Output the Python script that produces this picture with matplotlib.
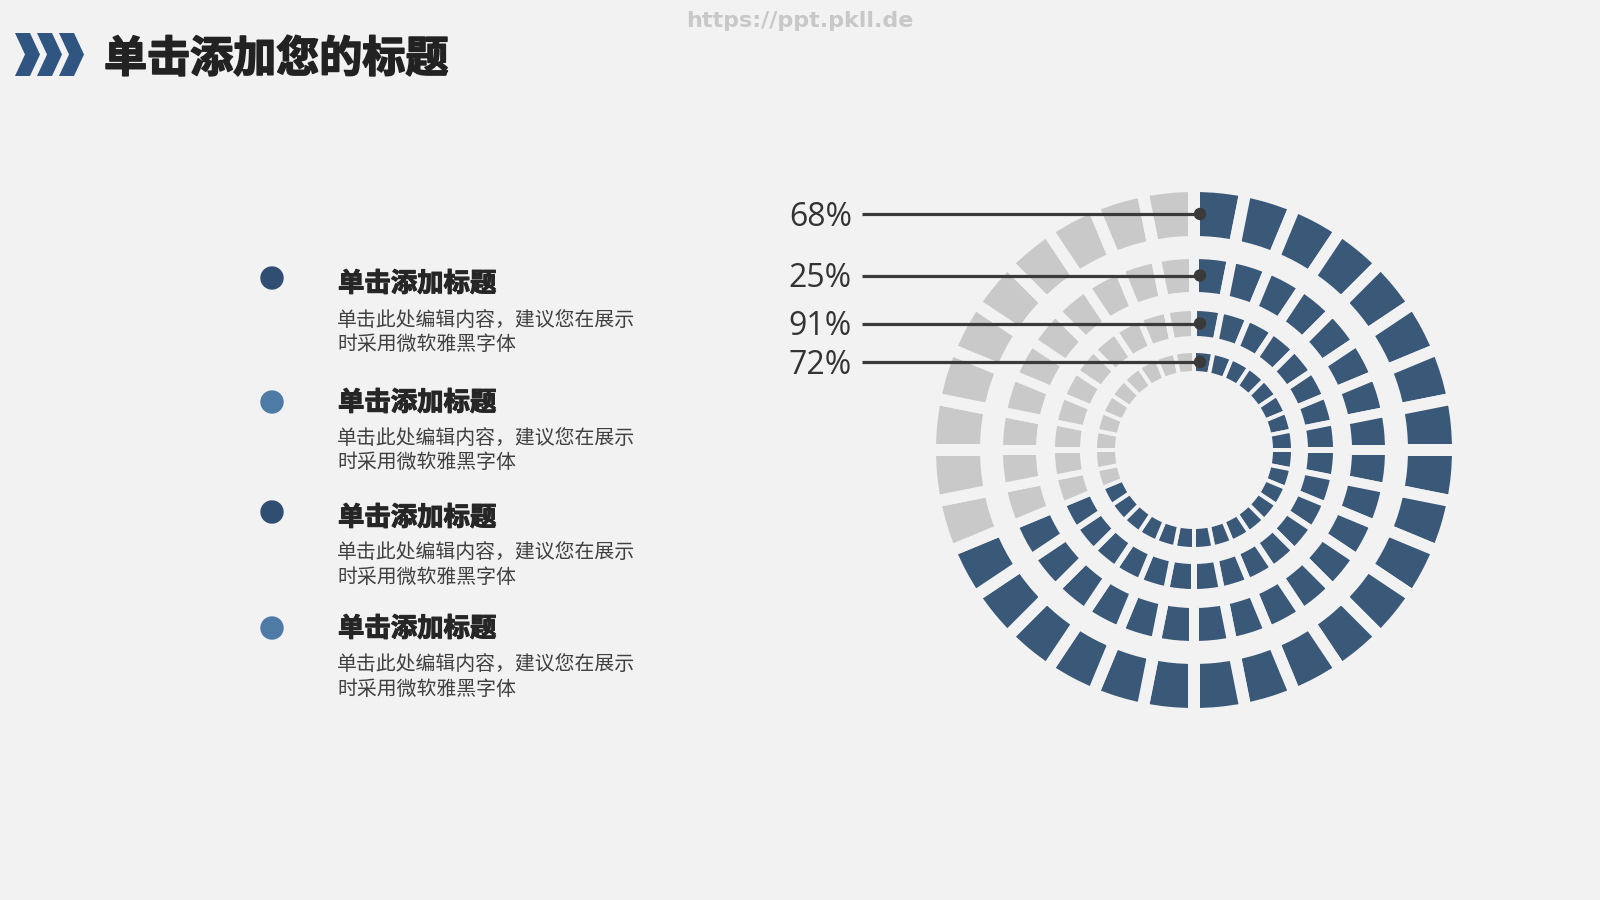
import matplotlib
matplotlib.use("Agg")
import matplotlib.pyplot as plt
from matplotlib.patches import Polygon, Circle
import matplotlib.patheffects as pe

plt.rcParams['font.family'] = ['Noto Sans CJK SC', 'DejaVu Sans']

# ---------------- data ----------------
title = "单击添加您的标题"
watermark = "https://ppt.pkll.de"
item_titles = ["单击添加标题", "单击添加标题", "单击添加标题", "单击添加标题"]
item_line1 = ["单击此处编辑内容，建议您在展示"] * 4
item_line2 = ["时采用微软雅黑字体"] * 4
ring_labels = ["68%", "25%", "91%", "72%"]
ring_total_segments = [32, 32, 32, 32]
ring_filled_segments = [22, 22, 22, 22]

# ---------------- style / layout ----------------
W, H = 1600, 900
BG = "#f2f2f2"
BLUE = "#3a5878"
GRAY = "#c9c9c9"
DARK = "#3a3a3a"

cx, cy_img = 1194, 450
ring_outer = [258, 191, 139, 97]
ring_inner = [214, 158, 114, 79]
ring_gap_px = [12, 10, 6, 4]

fig = plt.figure(figsize=(16, 9), dpi=100, facecolor=BG)
ax = fig.add_axes([0, 0, 1, 1])
ax.set_facecolor(BG)


def Y(y):
    return H - y


# rings (pie charts with background-coloured edges as gaps)
for i in range(4):
    n = ring_total_segments[i]
    k = ring_filled_segments[i]
    colors = [BLUE] * k + [GRAY] * (n - k)
    lw_px = ring_gap_px[i]
    ax.pie([1] * n, colors=colors, startangle=90, counterclock=False,
           radius=ring_outer[i] + lw_px / 2, center=(cx, Y(cy_img)), frame=True,
           wedgeprops=dict(width=(ring_outer[i] - ring_inner[i]) + lw_px,
                           edgecolor=BG, linewidth=lw_px * 72 / 100))

# leader lines and labels
for i in range(4):
    rm = (ring_outer[i] + ring_inner[i]) / 2
    y = Y(cy_img - rm)
    ax.plot([862, 1200], [y, y], color=DARK, lw=2.3, solid_capstyle='butt', zorder=5)
    ax.add_patch(Circle((1200, y), 5.5, color=DARK, zorder=6))
    ax.text(852, y - 3, ring_labels[i], ha='right', va='center', fontsize=23,
            color="#333333", family=['Open Sans', 'DejaVu Sans'])

# header chevrons
for x0 in (15, 37, 59):
    pts = [(x0, Y(33)), (x0 + 15, Y(33)), (x0 + 25, Y(54.5)), (x0 + 15, Y(76)),
           (x0, Y(76)), (x0 + 10, Y(54.5))]
    ax.add_patch(Polygon(pts, closed=True, color="#2f5580", lw=0))

bold_fx = [pe.withStroke(linewidth=1.2, foreground="#222222")]
ax.text(104, Y(59), title, ha='left', va='center', fontsize=31,
        fontweight='bold', color="#222222", path_effects=bold_fx)
ax.text(800, Y(21), watermark, ha='center', va='center', fontsize=16,
        fontweight='bold', color="#c8c8c8", family=['DejaVu Sans'])

# left list
bullet_y = [278, 402, 512, 628]
bullet_colors = ["#2f4e72", "#4e7aa6", "#2f4e72", "#4e7aa6"]
head_y = [284, 403, 518, 629]
l1_y = [320, 438, 553, 665]
l2_y = [344, 462, 577, 689]
head_fx = [pe.withStroke(linewidth=0.8, foreground="#262626")]
for i in range(4):
    ax.add_patch(Circle((272, Y(bullet_y[i])), 11, color=bullet_colors[i]))
    ax.text(338, Y(head_y[i]), item_titles[i], ha='left', va='center',
            fontsize=19, fontweight='bold', color="#262626", path_effects=head_fx)
    ax.text(337, Y(l1_y[i]), item_line1[i], ha='left', va='center',
            fontsize=14.3, color="#404040")
    ax.text(337, Y(l2_y[i]), item_line2[i], ha='left', va='center',
            fontsize=14.3, color="#404040")

ax.set_xlim(0, W)
ax.set_ylim(0, H)
ax.set_aspect('auto')
ax.axis('off')

fig.savefig("out.png", dpi=100, facecolor=BG)
